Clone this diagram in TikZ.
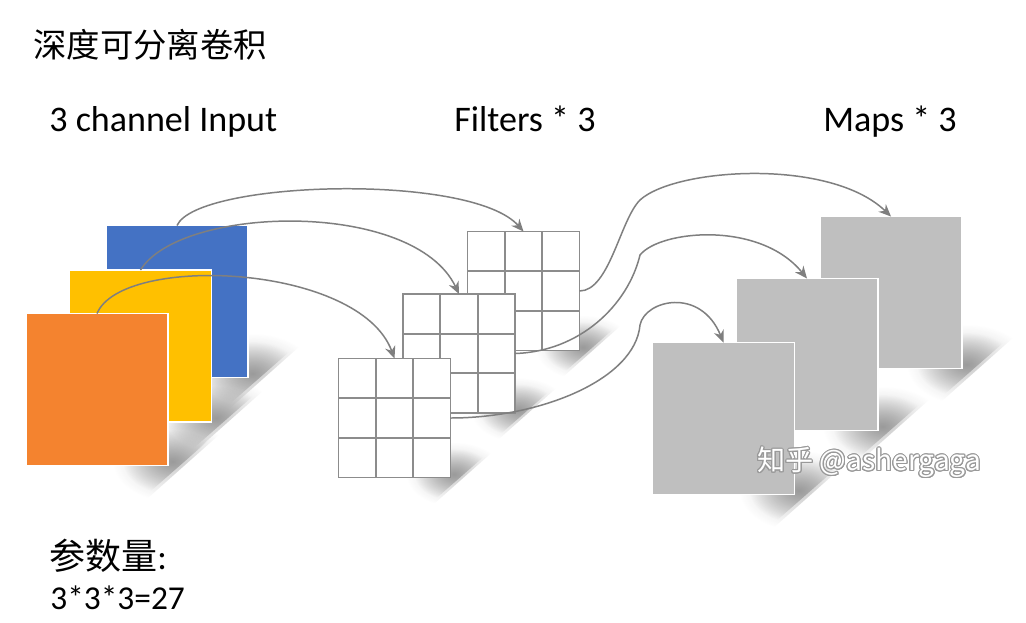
\documentclass[tikz,border=0pt]{standalone}
\usepackage{fontspec}
\setmainfont{Carlito}
\newfontfamily\cjk{Noto Sans CJK SC}
\usepackage{tikz}
\usepackage{contour}
\contourlength{0.6pt}
\usetikzlibrary{calc,fadings,backgrounds,arrows.meta}
\definecolor{inblue}{HTML}{4472C4}
\definecolor{inyellow}{HTML}{FFC000}
\definecolor{inorange}{HTML}{F4832F}
\definecolor{mapgray}{HTML}{BFBFBF}
\definecolor{linegray}{HTML}{7F7F7F}
\definecolor{gridgray}{HTML}{8C8C8C}
\definecolor{shadowgray}{HTML}{8E8E8E}
\tikzfading[name=shadefade, inner color=transparent!0, outer color=transparent!100]
\tikzstyle{layer} = [rectangle, inner sep=0pt, outer sep=0pt,
minimum width=2.84cm,
minimum height=3.04cm,
draw=white, line width=0.9pt]
\tikzstyle{map} = [layer, fill=mapgray]
\tikzstyle{filter} = [rectangle, inner sep=0pt, outer sep=0pt,
minimum width=2.24cm,
minimum height=2.38cm,
fill=white, draw=gridgray, line width=1pt,
path picture={
  \foreach \k in {1,2}{
    \draw[gridgray, line width=1pt] ($(path picture bounding box.north west)!\k/3!(path picture bounding box.north east)$) -- ($(path picture bounding box.south west)!\k/3!(path picture bounding box.south east)$);
    \draw[gridgray, line width=1pt] ($(path picture bounding box.north west)!\k/3!(path picture bounding box.south west)$) -- ($(path picture bounding box.north east)!\k/3!(path picture bounding box.south east)$);
  }}]
\tikzstyle{arrow} = [draw=linegray, line width=0.85pt, -{Stealth[length=7pt,width=6pt]}]
\tikzstyle{heading} = [anchor=base west, inner sep=0pt, font=\fontsize{20.5}{24}\selectfont]
% soft shadow behind a square (a wide light one and a tight darker one)
\newcommand{\castshadow}[2]{%
  \fill[shadowgray, opacity=0.45, path fading=shadefade]
    ($(#1.south east)+(-55*#2,-44*#2)$) -- ($(#1.south east)+(66*#2,-44*#2)$) -- ($(#1.south east)+(-24*#2,36*#2)$) -- ($(#1.south east)+(-55*#2,36*#2)$) -- cycle;
  \fill[shadowgray, opacity=0.8, path fading=shadefade]
    ($(#1.south east)+(-45*#2,-36*#2)$) -- ($(#1.south east)+(53*#2,-36*#2)$) -- ($(#1.south east)+(-20*#2,28*#2)$) -- ($(#1.south east)+(-45*#2,28*#2)$) -- cycle;}

\begin{document}
\begin{tikzpicture}[x=0.02cm, y=-0.02cm]
        \useasboundingbox (0,0) rectangle (1026,622);
        \node (title) [anchor=west, inner sep=0pt, font=\cjk\fontsize{19}{23}\selectfont] at (33,45) {深度可分离卷积};

        \node (inlabel) [heading] at (49,131) {3 channel Input};
        \node (fltlabel) [heading] at (454,131) {Filters * 3};
        \node (maplabel) [heading] at (823,131) {Maps * 3};

        % input channels
        \node (inC) [layer, fill=inblue] at (177,301.5) {};
        \node (inB) [layer, fill=inyellow] at (140.5,346) {};
        \node (inA) [layer, fill=inorange] at (97,389.5) {};

        % filters
        \node (fltC) [filter] at (523.5,291) {};
        \node (fltB) [filter] at (459,353.5) {};
        \node (fltA) [filter] at (394.5,418) {};

        % maps
        \node (mapC) [map] at (891,292.5) {};
        \node (mapB) [map] at (807,354.5) {};
        \node (mapA) [map] at (723.5,418.5) {};

        \node (mark) [anchor=west, inner sep=0pt, font=\cjk\fontsize{16}{19}\selectfont, text=white] at (757,463) {\contour{black!40}{知乎 @ashergaga}};

        \node (paramlabel) [anchor=west, inner sep=0pt, font=\fontsize{20.5}{24}\selectfont] at (49,556) {{\cjk 参数量}:};
        \node (paramvalue) [anchor=west, inner sep=0pt, font=\fontsize{19}{23}\selectfont] at (50,598) {3*3*3=27};

        \begin{scope}[on background layer]
          \fill[white] (0,0) rectangle (1026,622);
          \castshadow{inC}{1}
          \castshadow{inB}{1}
          \castshadow{inA}{1}
          \castshadow{fltC}{0.8}
          \castshadow{fltB}{0.8}
          \castshadow{fltA}{0.8}
          \castshadow{mapC}{1}
          \castshadow{mapB}{1}
          \castshadow{mapA}{1}
        \end{scope}

        \coordinate (bendC) at (640,200);
        \coordinate (bendB) at (640,255);
        \coordinate (bendA) at (640,325);

        \draw [arrow] (inC.north) .. controls +(20,-45) and +(-52,-59) .. (fltC.north);
        \draw [arrow] (inB.north) .. controls +(40,-65) and +(-45,-95) .. (fltB.north);
        \draw [arrow] (inA.north) .. controls +(25,-60) and +(-35,-95) .. (fltA.north);

        \draw [arrow] (fltC.east) .. controls +(30,0) and +(-20,20) .. (bendC) .. controls +(35,-32) and +(-61,-59) .. (mapC.north);
        \draw [arrow] (fltB.east) .. controls +(65,-2) and +(-12,50) .. (bendB) .. controls +(20,-25) and +(-47,-58) .. (mapB.north);
        \draw [arrow] (fltA.east) .. controls +(89,0) and +(-5,55) .. (bendA) .. controls +(5,-25) and +(-23,-56) .. (mapA.north);
\end{tikzpicture}
\end{document}
